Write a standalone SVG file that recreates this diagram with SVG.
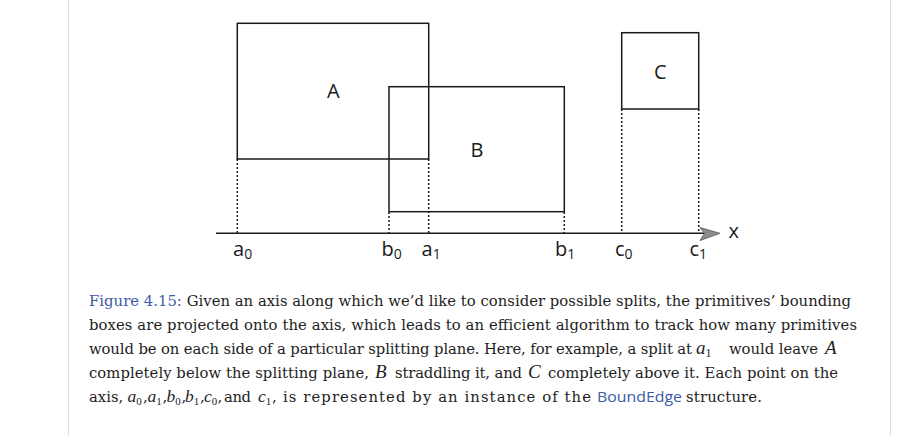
<svg xmlns="http://www.w3.org/2000/svg" width="901" height="435" viewBox="0 0 901 435">
<style>
.box{fill:none;stroke:#1a1a1a;stroke-width:1.5}
.dot{fill:none;stroke:#1a1a1a;stroke-width:1.5;stroke-dasharray:2 2}
.lbl{font-family:"Open Sans","Noto Sans",sans-serif;font-size:20px;fill:#1a1a1a}
.sub{font-size:14px}
.cap{font-family:"DejaVu Serif","Liberation Serif",serif;font-size:14.8px;fill:#1e1e1e}
.m{font-family:"Liberation Serif","Times New Roman",serif;font-size:19px;font-style:italic;fill:#1e1e1e}
.ms{font-size:12px;font-style:normal}
.mm{font-family:"Liberation Serif","Times New Roman",serif;font-size:17.5px;font-style:italic;fill:#1e1e1e}
.ms2{font-size:11px;font-style:normal}
.blue{fill:#3d5ba6}
.code{font-family:"Open Sans","Noto Sans",sans-serif;font-size:15px;fill:#3d5ba6}
</style>
<rect width="901" height="435" fill="#fff"/>
<line x1="68.5" y1="0" x2="68.5" y2="435" stroke="#dcdcdc" stroke-width="1"/>
<line x1="890.5" y1="0" x2="890.5" y2="435" stroke="#dcdcdc" stroke-width="1"/>

<g id="connectors">
<line class="box" x1="216" y1="233.3" x2="706" y2="233.3"/>
<polygon points="720,233.3 700,227.5 704.5,233.3 700,240.5" fill="#8c8c8c" stroke="#555" stroke-width="0.8"/>
<line class="dot" x1="237.3" y1="159" x2="237.3" y2="233"/>
<line class="dot" x1="428.7" y1="159" x2="428.7" y2="233"/>
<line class="dot" x1="389" y1="212" x2="389" y2="233"/>
<line class="dot" x1="564.3" y1="212" x2="564.3" y2="233"/>
<line class="dot" x1="621.7" y1="109" x2="621.7" y2="233"/>
<line class="dot" x1="698.7" y1="109" x2="698.7" y2="233"/>
</g>

<g id="boxA">
<rect class="box" x="237.3" y="23.3" width="191.4" height="135.7"/>
<text class="lbl" x="333.3" y="98.3" text-anchor="middle">A</text>
</g>
<g id="boxB">
<rect class="box" x="389" y="86.7" width="175.3" height="125"/>
<text class="lbl" x="477" y="156.7" text-anchor="middle">B</text>
</g>
<g id="boxC">
<rect class="box" x="621.7" y="32.7" width="77" height="76.3"/>
<text class="lbl" x="660.3" y="79" text-anchor="middle">C</text>
</g>

<g id="axis-labels">
<text class="lbl" x="233" y="256">a<tspan class="sub" dy="3">0</tspan></text>
<text class="lbl" x="381.5" y="256">b<tspan class="sub" dy="3">0</tspan></text>
<text class="lbl" x="421.5" y="256">a<tspan class="sub" dy="3">1</tspan></text>
<text class="lbl" x="555" y="256">b<tspan class="sub" dy="3">1</tspan></text>
<text class="lbl" x="615" y="256">c<tspan class="sub" dy="3">0</tspan></text>
<text class="lbl" x="689.5" y="256">c<tspan class="sub" dy="3">1</tspan></text>
<text class="lbl" x="728.5" y="238.3">x</text>
</g>

<g id="caption">
<text class="cap" x="89" y="306" textLength="762" lengthAdjust="spacing"><tspan class="blue">Figure 4.15:</tspan> Given an axis along which we’d like to consider possible splits, the primitives’ bounding</text>
<text class="cap" x="89" y="330" textLength="768" lengthAdjust="spacing">boxes are projected onto the axis, which leads to an efficient algorithm to track how many primitives</text>
<text class="cap" x="89" y="354" textLength="603" lengthAdjust="spacing">would be on each side of a particular splitting plane. Here, for example, a split at</text>
<text class="m" x="696" y="354">a<tspan class="ms" dy="3">1</tspan></text>
<text class="cap" x="729" y="354" textLength="89" lengthAdjust="spacing">would leave</text>
<text class="m" x="825" y="354">A</text>
<text class="cap" x="89" y="378" textLength="280" lengthAdjust="spacing">completely below the splitting plane,</text>
<text class="m" x="375" y="378">B</text>
<text class="cap" x="395" y="378" textLength="127" lengthAdjust="spacing">straddling it, and</text>
<text class="m" x="528" y="378">C</text>
<text class="cap" x="548" y="378" textLength="290" lengthAdjust="spacing">completely above it. Each point on the</text>
<text class="cap" x="89" y="402">axis,</text>
<text class="mm" x="127.5" y="402">a<tspan class="ms2" dy="3">0</tspan></text>
<text class="cap" x="143" y="402">,</text>
<text class="mm" x="147.5" y="402">a<tspan class="ms2" dy="3">1</tspan></text>
<text class="cap" x="162.5" y="402">,</text>
<text class="mm" x="166.5" y="402">b<tspan class="ms2" dy="3">0</tspan></text>
<text class="cap" x="181.5" y="402">,</text>
<text class="mm" x="185" y="402">b<tspan class="ms2" dy="3">1</tspan></text>
<text class="cap" x="200" y="402">,</text>
<text class="mm" x="204" y="402">c<tspan class="ms2" dy="3">0</tspan></text>
<text class="cap" x="217.5" y="402">,</text>
<text class="cap" x="224" y="402" textLength="27" lengthAdjust="spacing">and</text>
<text class="mm" x="258" y="402">c<tspan class="ms2" dy="3">1</tspan></text>
<text class="cap" x="272" y="402">,</text>
<text class="cap" x="283" y="402" textLength="308" lengthAdjust="spacing">is represented by an instance of the</text>
<text class="code" x="597" y="402" textLength="85" lengthAdjust="spacingAndGlyphs">BoundEdge</text>
<text class="cap" x="686" y="402" textLength="76" lengthAdjust="spacing">structure.</text>
</g>
</svg>
